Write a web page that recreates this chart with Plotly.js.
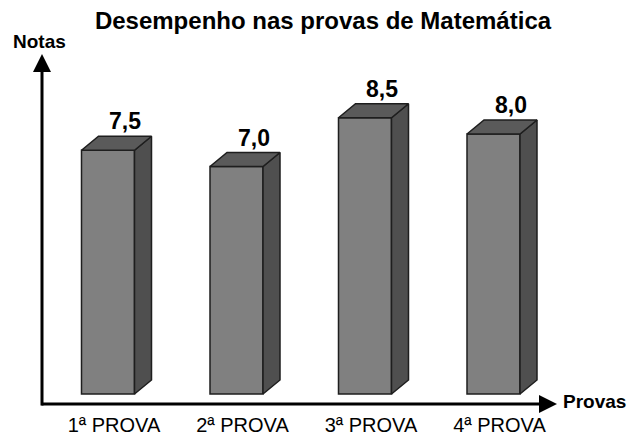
<!DOCTYPE html>
<html>
<head>
<meta charset="utf-8">
<script src="https://cdn.plot.ly/plotly-3.0.1.min.js"></script>
<style>html,body{margin:0;padding:0;background:#fff;}</style>
</head>
<body>
<div id="chart" style="width:632px;height:435px;"></div>
<script>
// ---- data ----
const categories = ["1ª PROVA", "2ª PROVA", "3ª PROVA", "4ª PROVA"];
const notas = [7.5, 7.0, 8.5, 8.0];
const chartTitle = "Desempenho nas provas de Matemática";
const yAxisLabel = "Notas";
const xAxisLabel = "Provas";

// ---- geometry (data units derived from layout) ----
const W = 632, H = 435;
const mL = 42, mR = 75, mT = 54, mB = 31;
const xRange = [-0.5136, 3.4942];
const yRange = [-0.3077, 10.4615];
const plotW = W - mL - mR, plotH = H - mT - mB;
const pxPerX = plotW / (xRange[1] - xRange[0]);
const pxPerY = plotH / (yRange[1] - yRange[0]);
const barW = 53 / pxPerX;
const dX = 17 / pxPerX;   // 3D depth
const dY = 14 / pxPerY;

const xs = categories.map((c, i) => i);
const edge = "#1e1e1e";
const FONT = "Liberation Sans, Arial, sans-serif";

const traces = [];
traces.push({
  type: "bar", x: xs, y: notas, width: barW,
  marker: {color: "#808080", line: {color: edge, width: 1.5}},
  hoverinfo: "skip", showlegend: false
});
xs.forEach((x, i) => {
  const v = notas[i];
  const l = x - barW / 2, r = x + barW / 2;
  // side face
  traces.push({
    type: "scatter", mode: "lines", fill: "toself", fillcolor: "#4f4f4f",
    x: [r, r, r + dX, r + dX, r], y: [0, v, v + dY, dY, 0],
    line: {color: edge, width: 1.5}, hoverinfo: "skip", showlegend: false
  });
  // top face
  traces.push({
    type: "scatter", mode: "lines", fill: "toself", fillcolor: "#5a5a5a",
    x: [l, r, r + dX, l + dX, l], y: [v, v, v + dY, v + dY, v],
    line: {color: edge, width: 1.5}, hoverinfo: "skip", showlegend: false
  });
});

const annotations = xs.map((x, i) => ({
  x: x + dX, y: notas[i] + dY + 15 / pxPerY, xref: "x", yref: "y",
  text: "<b>" + notas[i].toFixed(1).replace(".", ",") + "</b>", showarrow: false,
  xanchor: "center", yanchor: "middle",
  font: {family: FONT, size: 23, color: "#000"}
}));
// axis arrows
annotations.push({
  xref: "x", yref: "y", axref: "x", ayref: "y",
  x: xRange[1], y: yRange[0], ax: xRange[0] - 2 / pxPerX, ay: yRange[0],
  showarrow: true, arrowhead: 2, arrowsize: 1.2, arrowwidth: 3, arrowcolor: "#000", text: ""
});
annotations.push({
  xref: "x", yref: "y", axref: "x", ayref: "y",
  x: xRange[0], y: yRange[1], ax: xRange[0], ay: yRange[0] - 3 / pxPerY,
  showarrow: true, arrowhead: 2, arrowsize: 1.2, arrowwidth: 3, arrowcolor: "#000", text: ""
});
annotations.push({
  xref: "paper", yref: "paper", x: (11 - mL) / plotW, y: (H - mB - 41) / plotH,
  xanchor: "left", yanchor: "middle", text: "<b>" + yAxisLabel + "</b>", showarrow: false,
  font: {family: FONT, size: 19, color: "#000"}
});
annotations.push({
  xref: "paper", yref: "paper", x: (561 - mL) / plotW, y: (H - mB - 401) / plotH,
  xanchor: "left", yanchor: "middle", text: "<b>" + xAxisLabel + "</b>", showarrow: false,
  font: {family: FONT, size: 19, color: "#000"}
});

const layout = {
  width: W, height: H,
  margin: {l: mL, r: mR, t: mT, b: mB, pad: 0},
  paper_bgcolor: "#fff", plot_bgcolor: "#fff",
  title: {
    text: "<b>" + chartTitle + "</b>", xref: "container", yref: "container",
    x: 323 / W, y: 1 - 21 / H, xanchor: "center", yanchor: "middle",
    font: {family: FONT, size: 24, color: "#000"}
  },
  xaxis: {
    range: xRange, showgrid: false, zeroline: false, showline: false,
    tickvals: xs.map(x => x + 6 / pxPerX), ticktext: categories, ticks: "",
    ticklabelstandoff: 7,
    tickfont: {family: FONT, size: 20, color: "#000"},
    fixedrange: true
  },
  yaxis: {
    range: yRange, showgrid: false, zeroline: false, showline: false,
    showticklabels: false, ticks: "", fixedrange: true
  },
  annotations: annotations,
  showlegend: false
};

Plotly.newPlot("chart", traces, layout, {displayModeBar: false, staticPlot: true});
</script>
</body>
</html>
